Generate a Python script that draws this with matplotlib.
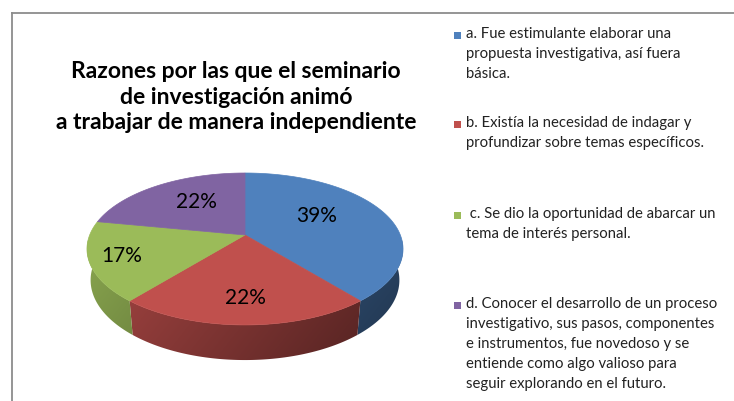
import numpy as np
import matplotlib
matplotlib.use("Agg")
import matplotlib.pyplot as plt
from matplotlib.patches import Polygon, Rectangle
from matplotlib.lines import Line2D

plt.rcParams["font.family"] = ["Lato", "DejaVu Sans"]

title = "Razones por las que el seminario\nde investigación animó\na trabajar de manera independiente"
labels = [
    "a. Fue estimulante elaborar una\npropuesta investigativa, así fuera\nbásica.",
    "b. Existía la necesidad de indagar y\nprofundizar sobre temas específicos.",
    " c. Se dio la oportunidad de abarcar un\ntema de interés personal.",
    "d. Conocer el desarrollo de un proceso\ninvestigativo, sus pasos, componentes\ne instrumentos, fue novedoso y se\nentiende como algo valioso para\nseguir explorando en el futuro.",
]
values = [39, 22, 17, 22]
colors = ["#4F81BD", "#C0504D", "#9BBB59", "#8064A2"]

# 3d pie geometry (pixel space)
cx, cy = 245, 235
scale = 744
elev = np.radians(28.2)
dist = 4.79
depth = 0.23
s, c = np.sin(elev), np.cos(elev)
label_r = [0.56, 0.74, 0.8, 0.6]   # where excel put the % labels
label_da = [10, 0, 0, -5]          # small angle nudges (deg)


def project(r, theta, z=0.0):
    x = r * np.cos(theta)
    y = r * np.sin(theta)
    d = dist + y * c - z * s
    X = x / d
    Y = (y * s + z * c) / d
    return cx + scale * X, cy - scale * Y


fig = plt.figure(figsize=(7.34, 4.01), dpi=100)
ax = fig.add_axes([0, 0, 1, 1])
ax.set_xlim(0, 734)
ax.set_ylim(401, 0)
ax.axis("off")

# chart frame
ax.add_line(Line2D([12, 734], [13, 13], color="#8C8C8C", lw=1.3))
ax.add_line(Line2D([12, 12], [13, 401], color="#8C8C8C", lw=1.3))

fracs = np.array(values) / np.sum(values)
starts = np.radians(90) - 2 * np.pi * np.concatenate([[0], np.cumsum(fracs)[:-1]])
ends = starts - 2 * np.pi * fracs

# side walls, shaded darker to the right / bottom
wx0, wx1 = cx - 170, cx + 170
wy0, wy1 = 240, 370
gx = np.linspace(0, 1, 200)[None, :]
gy = np.linspace(0, 1, 100)[:, None]
shade = 0.9 - 0.4 * gx - 0.12 * gy

for st, en, col in zip(starts, ends, colors):
    lo = max(en, -np.pi)
    hi = min(st, 0.0)
    if lo >= hi:
        continue
    th = np.linspace(hi, lo, 80)
    tx, ty = project(1.0, th, 0.0)
    bx, by = project(1.0, th[::-1], -depth)
    poly = Polygon(np.column_stack([np.r_[tx, bx], np.r_[ty, by]]),
                   closed=True, facecolor="none", edgecolor="none")
    ax.add_patch(poly)
    rgb = np.array(matplotlib.colors.to_rgb(col))
    img = np.clip(shade[:, :, None] * rgb[None, None, :], 0, 1)
    im = ax.imshow(img, extent=(wx0, wx1, wy1, wy0), origin="upper",
                   aspect="auto", interpolation="bilinear", zorder=1)
    im.set_clip_path(poly)

# top faces
for st, en, col in zip(starts, ends, colors):
    th = np.linspace(st, en, 120)
    px, py = project(1.0, th)
    pts = np.column_stack([np.r_[cx, px], np.r_[cy, py]])
    ax.add_patch(Polygon(pts, closed=True, facecolor=col, edgecolor=col,
                         lw=0.5, zorder=2))

# percentage labels
for st, en, v, r, da in zip(starts, ends, values, label_r, label_da):
    mid = (st + en) / 2 + np.radians(da)
    lx, ly = project(r, mid)
    ax.text(lx, ly, f"{v}%", ha="center", va="center", fontsize=15,
            color="black", zorder=3)

ax.text(236, 97, title, ha="center", va="center", fontsize=16.5,
        fontweight="bold", linespacing=1.29, color="black")

# legend
leg_y = [36, 125, 216, 306]
for lab, col, y in zip(labels, colors, leg_y):
    ax.add_patch(Rectangle((454, y - 4), 7, 7, facecolor=col, edgecolor="none"))
    ax.text(466, y - 9, lab, ha="left", va="top", fontsize=10.7,
            linespacing=1.55, color="#222222")

fig.savefig("out.png", dpi=100)
